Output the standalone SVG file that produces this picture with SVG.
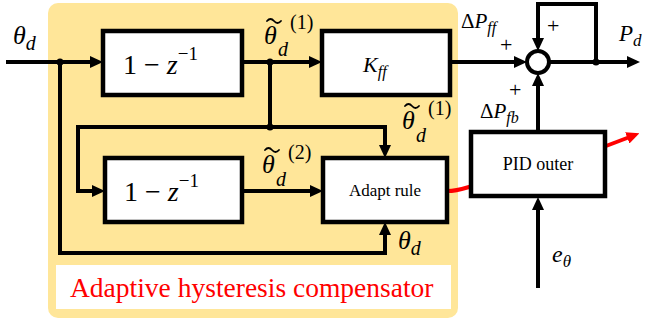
<svg xmlns="http://www.w3.org/2000/svg" width="645" height="320" viewBox="0 0 645 320">
<style>
.box{fill:#fff;stroke:#000;stroke-width:4.5}
.ln{fill:none;stroke:#000;stroke-width:4}
.red{fill:none;stroke:#f00;stroke-width:4}
.tilde{fill:none;stroke:#000;stroke-width:1.8;stroke-linecap:round}
.m{font-family:"Liberation Serif","DejaVu Serif",serif;font-style:italic}
.n{font-family:"Liberation Serif","DejaVu Serif",serif}
.t{font-family:"Liberation Serif","Times New Roman",serif}
.up{font-style:normal}
.cap{font-family:"Liberation Serif","Times New Roman",serif;fill:#f00}
</style>
<defs>
<marker id="ah" viewBox="0 0 13 12" refX="4" refY="6" markerWidth="13" markerHeight="12" markerUnits="userSpaceOnUse" orient="auto">
<path d="M0,0 L13,6 L0,12 z" fill="#000"/>
</marker>
<marker id="ahr" viewBox="0 0 13 12" refX="4" refY="6" markerWidth="13" markerHeight="12" markerUnits="userSpaceOnUse" orient="auto">
<path d="M0,0 L13,6 L0,12 z" fill="#f00"/>
</marker>
</defs>
<rect x="48" y="3" width="410" height="315" rx="10" fill="#FFE699"/>
<rect x="56" y="265" width="395" height="44" fill="#fff"/>

<g id="connectors">
<path class="ln" d="M6,62 H94" marker-end="url(#ah)"/>
<path class="ln" d="M60,62 V253 H385 V231" marker-end="url(#ah)"/>
<path class="ln" d="M242,62 H313" marker-end="url(#ah)"/>
<path class="ln" d="M270,62 V127"/>
<path class="ln" d="M268,127 H385 V149" marker-end="url(#ah)"/>
<path class="ln" d="M272,127 H78 V191 H96" marker-end="url(#ah)"/>
<path class="ln" d="M242,191 H314" marker-end="url(#ah)"/>
<path class="ln" d="M450,62 H518" marker-end="url(#ah)"/>
<path class="ln" d="M549,62 H631" marker-end="url(#ah)"/>
<path class="ln" d="M596,62 V4 H538 V42" marker-end="url(#ah)"/>
<path class="ln" d="M538,132 V82" marker-end="url(#ah)"/>
<path class="ln" d="M538,288 V206" marker-end="url(#ah)"/>
<path class="red" d="M447,191 C458,191 462,189 472,186"/>
<path class="red" d="M606,146 L631,136.5" marker-end="url(#ahr)"/>
<circle cx="60" cy="62" r="3.5"/>
<circle cx="270" cy="62" r="3.5"/>
<circle cx="270" cy="127" r="3.5"/>
<circle cx="596" cy="62" r="3.5"/>
</g>

<g id="sum">
<circle cx="538" cy="62" r="11" fill="#fff" stroke="#000" stroke-width="4"/>
</g>

<g id="diff1">
<rect class="box" x="103" y="31" width="139" height="64"/>
<text class="n" x="123" y="74" font-size="28">1 − <tspan class="m">z</tspan><tspan font-size="19" dy="-14">−1</tspan></text>
</g>
<g id="kff">
<rect class="box" x="322" y="31" width="128" height="64"/>
<text class="m" x="363" y="72" font-size="22">K<tspan font-size="16" dy="5">ff</tspan></text>
</g>
<g id="diff2">
<rect class="box" x="105" y="158" width="137" height="64"/>
<text class="n" x="124" y="201" font-size="28">1 − <tspan class="m">z</tspan><tspan font-size="19" dy="-14">−1</tspan></text>
</g>
<g id="adapt">
<rect class="box" x="323" y="158" width="124" height="64"/>
<text class="t" x="385" y="196" font-size="17" text-anchor="middle">Adapt rule</text>
</g>
<g id="pid">
<rect class="box" x="471" y="132" width="134" height="64"/>
<text class="t" x="538" y="170" font-size="18" text-anchor="middle">PID outer</text>
</g>

<g id="labels">
<text class="m" x="13" y="44" font-size="26">θ<tspan font-size="20" dy="6">d</tspan></text>

<path class="tilde" d="M267,21 q3.5,-4 7,0 t7,0"/>
<text class="m" font-size="26"><tspan x="264" y="44">θ</tspan><tspan font-size="20" x="278" y="56">d</tspan><tspan class="up" font-size="20" x="290" y="29">(1)</tspan></text>

<path class="tilde" d="M405,106 q3.5,-4 7,0 t7,0"/>
<text class="m" font-size="26"><tspan x="402" y="129">θ</tspan><tspan font-size="20" x="416" y="142">d</tspan><tspan class="up" font-size="20" x="428" y="115">(1)</tspan></text>

<path class="tilde" d="M265,150 q3.5,-4 7,0 t7,0"/>
<text class="m" font-size="26"><tspan x="262" y="173">θ</tspan><tspan font-size="20" x="276" y="186">d</tspan><tspan class="up" font-size="20" x="288" y="159">(2)</tspan></text>

<text class="m" x="398" y="249" font-size="26">θ<tspan font-size="20" dy="6">d</tspan></text>

<text class="n" x="461" y="28" font-size="21">Δ<tspan class="m">P</tspan><tspan class="m" font-size="16" dy="5">ff</tspan></text>
<text class="n" x="500" y="52" font-size="22">+</text>
<text class="n" x="547" y="33" font-size="22">+</text>
<text class="n" x="509" y="97" font-size="22">+</text>
<text class="n" x="480" y="118" font-size="21">Δ<tspan class="m">P</tspan><tspan class="m" font-size="16" dy="5">fb</tspan></text>
<text class="m" x="619" y="41" font-size="23">P<tspan font-size="17" dy="5">d</tspan></text>
<text class="m" x="552" y="262" font-size="24">e<tspan font-size="17" dy="5">θ</tspan></text>
</g>

<g id="caption">
<text class="cap" x="70" y="297" font-size="27.5">Adaptive hysteresis compensator</text>
</g>
</svg>
